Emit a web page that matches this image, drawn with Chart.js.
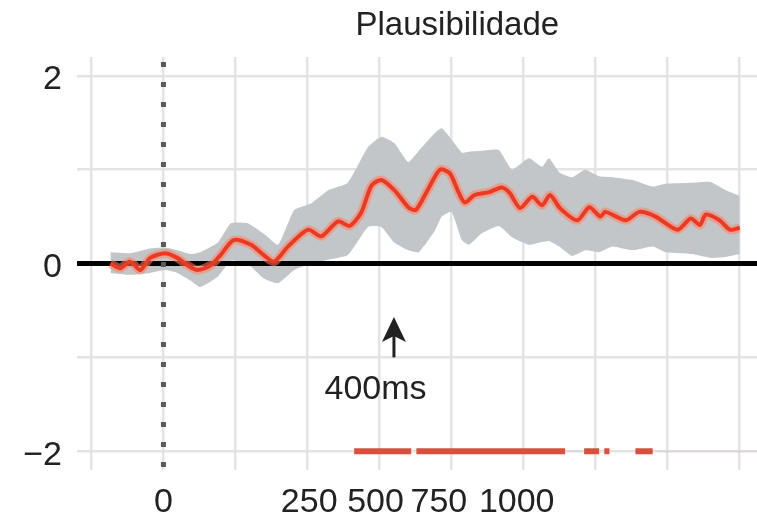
<!DOCTYPE html>
<html lang="pt">
<head>
<meta charset="UTF-8" />
<title>Plausibilidade</title>
<script src="https://cdn.jsdelivr.net/npm/chart.js"></script>
<style>
  html, body { margin: 0; padding: 0; background: #fff; }
</style>
</head>
<body>
<canvas id="myChart" width="757" height="522"></canvas>
<script>
const titleText = "Plausibilidade";

// mean effect: time (ms) and value
const meanTime = [-92, -75, -58, -40, -23, 3, 24, 42, 59, 82, 99, 122, 152, 172, 192, 216, 251, 274, 303, 323,
  343, 361, 378, 401, 425, 438, 460, 480, 497, 512, 523, 540, 565, 587, 601, 619, 640, 657, 671, 688,
  718, 739, 758, 767, 802, 826, 854, 892, 915, 931, 941, 965, 983, 1000];
const meanValue = [0.0, -0.05, 0.02, -0.07, 0.06, 0.11, 0.06, -0.02, -0.07, -0.02, 0.09, 0.25, 0.2, 0.1, 0.02, 0.18, 0.36, 0.29, 0.45, 0.4,
  0.54, 0.83, 0.89, 0.78, 0.6, 0.57, 0.8, 1.0, 0.96, 0.76, 0.65, 0.73, 0.76, 0.81, 0.75, 0.59, 0.71, 0.62, 0.73, 0.59,
  0.46, 0.6, 0.5, 0.55, 0.46, 0.55, 0.5, 0.36, 0.48, 0.41, 0.52, 0.46, 0.36, 0.38];

// grey band around the mean
const bandTime = [-92, -58, -23, 3, 24, 47, 64, 94, 117, 146, 174, 199, 227, 256, 286, 320, 355, 378, 401, 425,
  443, 471, 483, 500, 518, 530, 552, 582, 605, 634, 657, 669, 687, 709, 732, 756, 779, 814, 849, 871,
  918, 948, 976, 1000];
const bandUpper = [0.12, 0.11, 0.16, 0.17, 0.14, 0.1, 0.12, 0.22, 0.43, 0.43, 0.32, 0.2, 0.57, 0.64, 0.78, 0.86, 1.24, 1.35, 1.28, 1.08,
  1.2, 1.39, 1.44, 1.32, 1.18, 1.19, 1.2, 1.21, 1.0, 1.12, 1.03, 1.12, 0.97, 0.92, 1.0, 0.93, 0.92, 0.89, 0.82, 0.85,
  0.86, 0.87, 0.78, 0.72];
const bandLower = [-0.1, -0.12, -0.1, -0.07, -0.1, -0.18, -0.25, -0.14, 0.03, 0.0, -0.16, -0.21, -0.07, 0.0, 0.04, 0.09, 0.39, 0.39, 0.22, 0.14,
  0.12, 0.35, 0.5, 0.55, 0.25, 0.2, 0.32, 0.4, 0.28, 0.2, 0.23, 0.24, 0.18, 0.08, 0.14, 0.12, 0.18, 0.14, 0.18, 0.12,
  0.1, 0.06, 0.07, 0.1];

// significant windows (drawn on the -2 line)
const sigLevel = -2;
const sigStart = [331, 439, 730, 765, 819];
const sigEnd = [430, 697, 756, 774, 849];
const faintStart = [700, 856, 936];
const faintEnd = [726, 1030, 945];

const xGridTicks = [-125, 0, 125, 250, 375, 500, 625, 750, 875, 1000];
const xLabelPos = [0, 253, 368, 478, 613];
const xLabels = ["0", "250", "500", "750", "1000"];
const yGridTicks = [-2, -1, 0, 1, 2];
const yLabels = { "-2": "\u22122", "0": "0", "2": "2" };

const arrowTime = 400;
const arrowText = "400ms";

const xMin = -150, xMax = 1030, yMin = -2.2, yMax = 2.2;
const FONT = '"Liberation Sans", Arial, sans-serif';

const toPts = (xs, ys) => xs.map((x, i) => ({ x: x, y: ys[i] }));
const segPts = (starts, ends, level) => {
  const pts = [];
  starts.forEach((s, i) => {
    pts.push({ x: s, y: level }, { x: ends[i], y: level }, { x: ends[i] + 0.5, y: null });
  });
  return pts;
};

const titlePlugin = {
  id: "topTitle",
  afterDraw(chart) {
    const { ctx, scales } = chart;
    ctx.save();
    ctx.font = "33px " + FONT;
    ctx.fillStyle = "#222";
    ctx.textAlign = "center";
    ctx.textBaseline = "alphabetic";
    ctx.fillText(titleText, scales.x.getPixelForValue(510), 35);
    ctx.restore();
  },
};

const arrowPlugin = {
  id: "arrowNote",
  afterDatasetsDraw(chart) {
    const { ctx, scales } = chart;
    const ax = scales.x.getPixelForValue(arrowTime);
    const tip = scales.y.getPixelForValue(-0.57);
    const tail = scales.y.getPixelForValue(-1.0);
    ctx.save();
    ctx.strokeStyle = "#222";
    ctx.fillStyle = "#222";
    ctx.lineWidth = 3;
    ctx.beginPath();
    ctx.moveTo(ax, tail);
    ctx.lineTo(ax, tip + 12);
    ctx.stroke();
    ctx.beginPath();
    ctx.moveTo(ax, tip);
    ctx.lineTo(ax - 12, tip + 25);
    ctx.lineTo(ax, tip + 19);
    ctx.lineTo(ax + 12, tip + 25);
    ctx.closePath();
    ctx.fill();
    ctx.font = "34px " + FONT;
    ctx.textAlign = "center";
    ctx.textBaseline = "alphabetic";
    ctx.fillText(arrowText, scales.x.getPixelForValue(368), scales.y.getPixelForValue(-1.44));
    ctx.restore();
  },
};

const ctx = document.getElementById("myChart");

const myChart = new Chart(ctx, {
  type: "line",
  data: {
    datasets: [
      {
        // red mean line
        data: toPts(meanTime, meanValue),
        borderColor: "#ec3a22",
        borderWidth: 4,
        tension: 0.25,
        pointRadius: 0,
      },
      {
        // soft glow under the mean line
        data: toPts(meanTime, meanValue),
        borderColor: "rgba(255, 130, 100, 0.55)",
        borderWidth: 9,
        tension: 0.25,
        pointRadius: 0,
      },
      {
        // dotted line at t = 0
        data: [{ x: 0, y: yMin }, { x: 0, y: yMax }],
        borderColor: "#5a5a5a",
        borderWidth: 5,
        borderDash: [5, 15],
        borderDashOffset: -3,
        pointRadius: 0,
      },
      {
        // zero line
        data: [{ x: xMin, y: 0 }, { x: xMax, y: 0 }],
        borderColor: "#000",
        borderWidth: 5,
        pointRadius: 0,
      },
      {
        data: toPts(bandTime, bandUpper),
        borderWidth: 0,
        borderColor: "rgba(0,0,0,0)",
        backgroundColor: "rgb(194, 198, 200)",
        fill: "+1",
        tension: 0.15,
        pointRadius: 0,
      },
      {
        data: toPts(bandTime, bandLower),
        borderWidth: 0,
        borderColor: "rgba(0,0,0,0)",
        tension: 0.15,
        pointRadius: 0,
      },
      {
        data: segPts(sigStart, sigEnd, sigLevel),
        borderColor: "#d9503f",
        borderWidth: 6,
        borderCapStyle: "butt",
        spanGaps: false,
        pointRadius: 0,
      },
      {
        data: segPts(faintStart, faintEnd, sigLevel),
        borderColor: "rgba(215, 195, 205, 0.45)",
        borderWidth: 2,
        spanGaps: false,
        pointRadius: 0,
      },
    ],
  },
  options: {
    responsive: false,
    animation: false,
    layout: { padding: { top: 57, right: 0, bottom: 0, left: 0 } },
    plugins: {
      legend: { display: false },
      tooltip: { enabled: false },
    },
    scales: {
      x: {
        type: "linear",
        position: "bottom",
        min: xMin,
        max: xMax,
        afterBuildTicks: (axis) => { axis.ticks = xGridTicks.map((v) => ({ value: v })); },
        afterFit: (axis) => { axis.height = 0; },
        ticks: { display: false },
        grid: { color: "#e4e4e4", lineWidth: 2.5, drawTicks: false },
        border: { display: false },
      },
      xl: {
        type: "linear",
        position: "bottom",
        min: xMin,
        max: xMax,
        afterBuildTicks: (axis) => { axis.ticks = xLabelPos.map((v) => ({ value: v })); },
        afterFit: (axis) => { axis.height = 52; },
        ticks: {
          autoSkip: false,
          maxRotation: 0,
          padding: 12,
          color: "#222",
          font: { size: 34, family: FONT },
          callback: (v, i) => xLabels[i],
        },
        grid: { display: false, drawTicks: false },
        border: { display: false },
      },
      y: {
        min: yMin,
        max: yMax,
        afterBuildTicks: (axis) => { axis.ticks = yGridTicks.map((v) => ({ value: v })); },
        afterFit: (axis) => { axis.width = 77; },
        ticks: {
          padding: 15,
          labelOffset: 4,
          color: "#222",
          font: { size: 34, family: FONT },
          callback: (v) => yLabels[String(v)] || "",
        },
        grid: { color: "#e4e4e4", lineWidth: 2.5, drawTicks: false },
        border: { display: false },
      },
    },
  },
  plugins: [titlePlugin, arrowPlugin],
});
</script>
</body>
</html>
